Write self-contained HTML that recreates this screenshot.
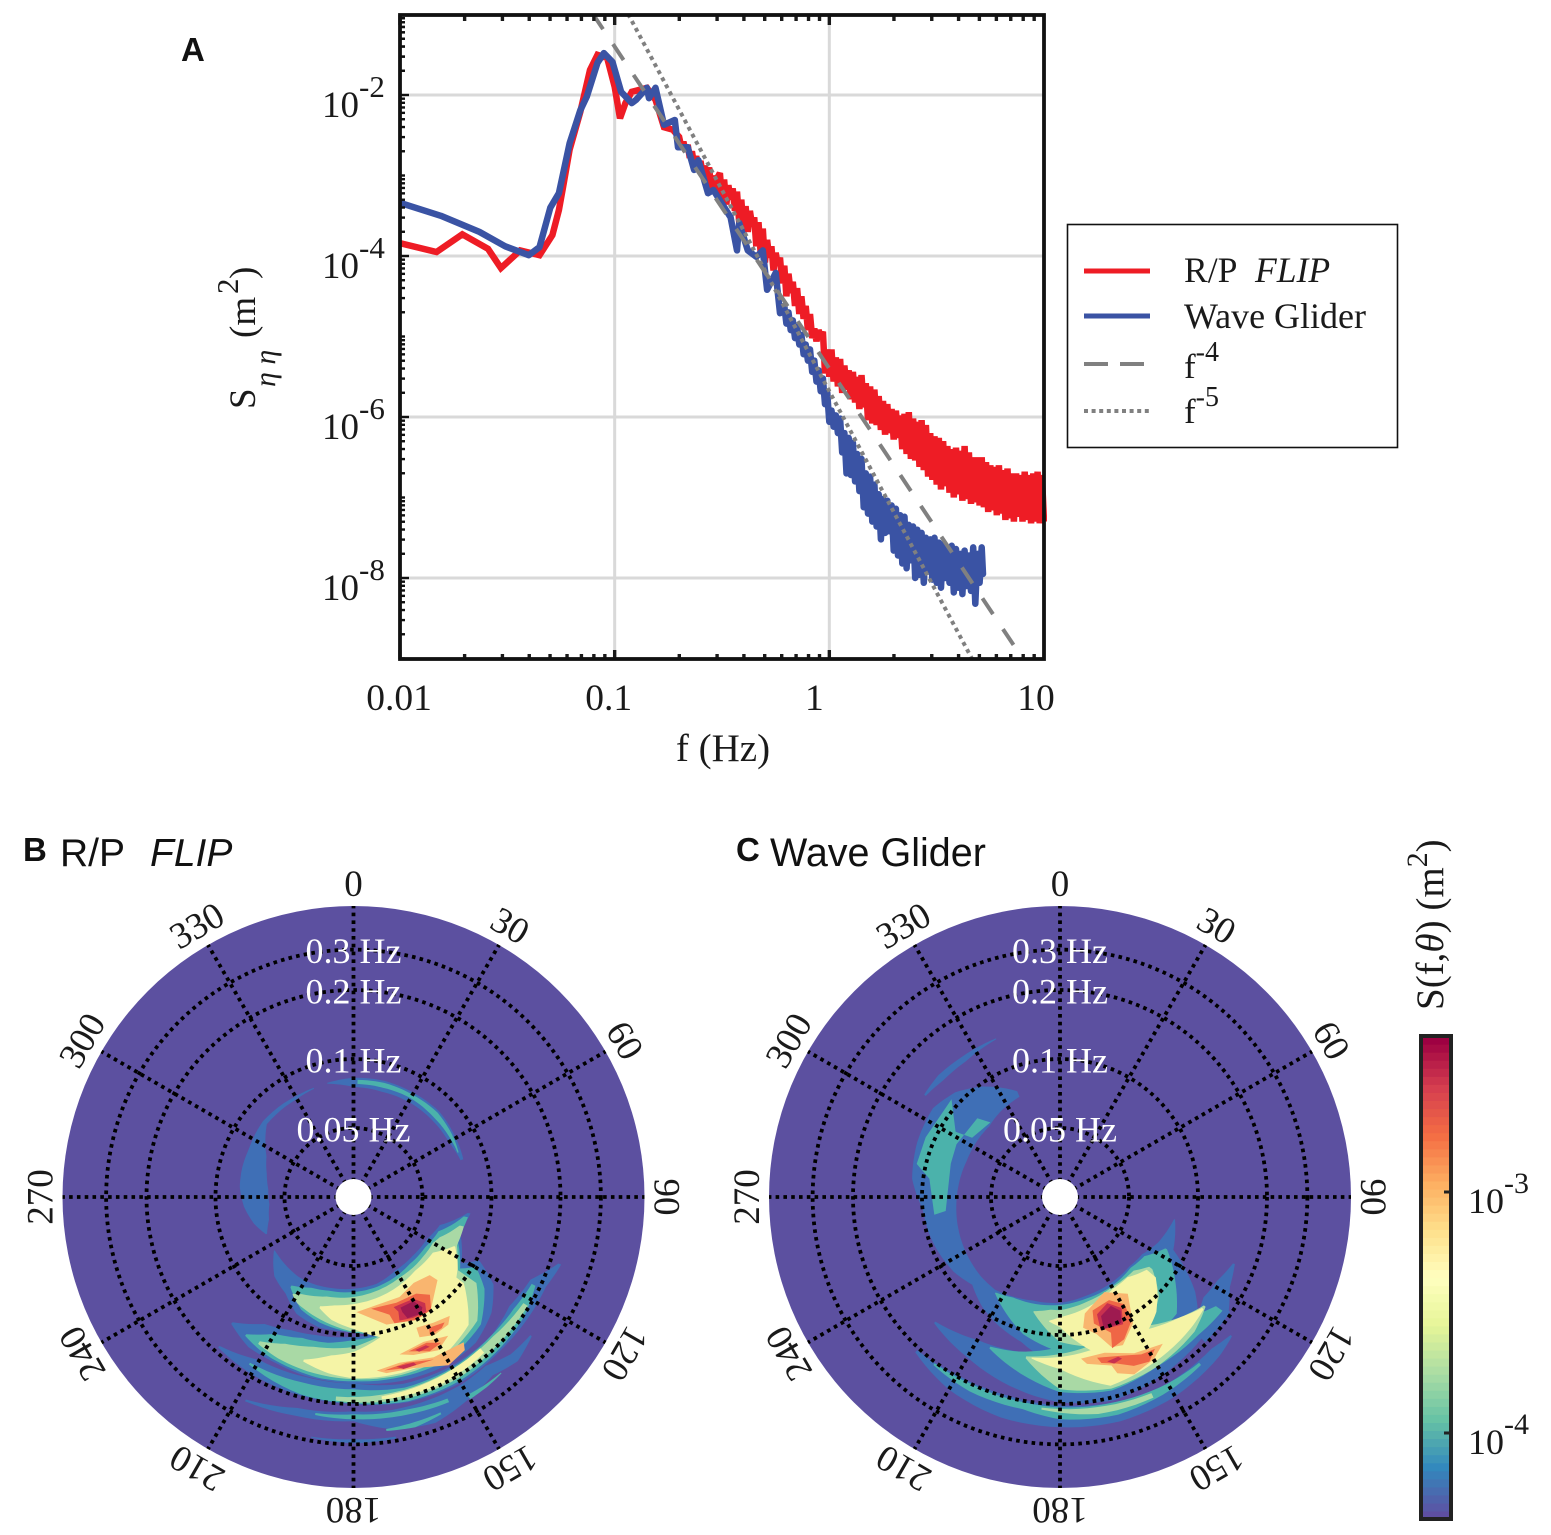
<!DOCTYPE html>
<html lang="en">
<head>
<meta charset="utf-8">
<title>Wave spectra comparison</title>
<style>
html,body{margin:0;padding:0;background:#fff}
svg{display:block}
text{font-family:"Liberation Serif",serif;fill:#1a1a1a}
.sans{font-family:"Liberation Sans",sans-serif;fill:#111}
</style>
</head>
<body>
<svg id="fig" xmlns="http://www.w3.org/2000/svg" width="1551" height="1535" viewBox="0 0 1551 1535">
  <defs><clipPath id="plotClip"><rect x="400" y="15" width="647" height="644"/></clipPath></defs>
  <g id="panelA"></g>
  <text class="sans" x="181" y="61" font-size="33" font-weight="bold">A</text>
  <text x="723" y="761" font-size="39" text-anchor="middle">f (Hz)</text>
  <g transform="translate(255,409) rotate(-90)">
    <text font-size="37"><tspan x="0" y="0">S</tspan><tspan x="22" y="20" font-size="30" font-style="italic">η η</tspan><tspan x="71" y="0">(m</tspan><tspan x="115" y="-17" font-size="31">2</tspan><tspan x="130" y="0">)</tspan></text>
  </g>

  <g>
    <rect x="1067.5" y="224.5" width="330" height="223" fill="#fff" stroke="#111" stroke-width="1.6"/>
    <line x1="1084" x2="1150" y1="271" y2="271" stroke="#ee1c25" stroke-width="5"/>
    <line x1="1084" x2="1150" y1="316" y2="316" stroke="#3a53a4" stroke-width="5"/>
    <line x1="1084" x2="1150" y1="364" y2="364" stroke="#808080" stroke-width="4" stroke-dasharray="24 12"/>
    <line x1="1084" x2="1150" y1="411" y2="411" stroke="#808080" stroke-width="4" stroke-dasharray="4 3.6"/>
    <text x="1184" y="282" font-size="35.6">R/P<tspan x="1255" font-style="italic">FLIP</tspan></text>
    <text x="1184" y="328" font-size="36">Wave Glider</text>
    <text x="1184" y="378" font-size="35">f<tspan font-size="28" dy="-17">-4</tspan></text>
    <text x="1184" y="423" font-size="35">f<tspan font-size="28" dy="-17">-5</tspan></text>
  </g>

  <g id="panelB"></g>
  <g id="panelC"></g>
  <text class="sans" x="23" y="861" font-size="33" font-weight="bold">B</text>
  <text class="sans" x="60" y="866" font-size="39">R/P<tspan x="150" font-style="italic">FLIP</tspan></text>
  <text class="sans" x="736" y="861" font-size="33" font-weight="bold">C</text>
  <text class="sans" x="770" y="866" font-size="39.5">Wave Glider</text>

  <g id="cbar"></g>
  <text transform="translate(1443,1010) rotate(-90)" font-size="39">S(f,<tspan font-style="italic">θ</tspan>) (m<tspan font-size="30" dy="-16">2</tspan><tspan dy="16">)</tspan></text>
</svg>

<script>
// ---------- Panel A data: log10(f in Hz) and log10(S in m^2) ----------
const xTickHz = [0.01, 0.1, 1, 10];
const xTickLabels = ['0.01', '0.1', '1', '10'];
const yTickExp = [-2, -4, -6, -8];
const yTickLabels = ['-2', '-4', '-6', '-8'];

const redLogF = [-2,-1.83,-1.71,-1.59,-1.53,-1.44,-1.35,-1.29,-1.26,-1.24,-1.21,-1.16,-1.115,-1.08,-1.035,-1,-0.975,-0.95,-0.92,-0.85,-0.81,-0.77,-0.73,
 -0.70,-0.69,-0.68,-0.67,-0.66,-0.65,-0.64,-0.63,-0.62,-0.61,
 -0.60,-0.59,-0.58,-0.57,-0.56,-0.55,-0.54,-0.53,-0.52,-0.51,
 -0.50,-0.49,-0.48,-0.47,-0.46,-0.45,-0.44,-0.43,-0.42,-0.41,
 -0.40,-0.39,-0.38,-0.37,-0.36,-0.35,-0.34,-0.33,-0.32,-0.31,
 -0.30,-0.29,-0.28,-0.27,-0.26,-0.25,-0.24,-0.23,-0.22,-0.21,
 -0.20,-0.19,-0.18,-0.17,-0.16,-0.15,-0.14,-0.13,-0.12,-0.11,
 -0.10,-0.09,-0.08,-0.07,-0.06,-0.05,-0.04,-0.03,-0.02,-0.01,
 0,0.01,0.02,0.03,0.04,0.05,0.06,0.07,0.08,0.09,
 0.10,0.11,0.12,0.13,0.14,0.15,0.16,0.17,0.18,0.19,
 0.20,0.21,0.22,0.23,0.24,0.25,0.26,0.27,0.28,0.29,
 0.30,0.31,0.32,0.33,0.34,0.35,0.36,0.37,0.38,0.39,
 0.40,0.41,0.42,0.43,0.44,0.45,0.46,0.47,0.48,0.49,
 0.50,0.51,0.52,0.53,0.54,0.55,0.56,0.57,0.58,0.59,
 0.60,0.61,0.62,0.63,0.64,0.65,0.66,0.67,0.68,0.69,
 0.70,0.71,0.72,0.73,0.74,0.75,0.76,0.77,0.78,0.79,
 0.80,0.81,0.82,0.83,0.84,0.85,0.86,0.87,0.88,0.89,
 0.90,0.91,0.92,0.93,0.94,0.95,0.96,0.97,0.98,0.99,1.0];
const redLogS = [-3.84,-3.95,-3.73,-3.91,-4.15,-3.93,-3.99,-3.74,-3.43,-3.14,-2.68,-2.21,-1.69,-1.50,-1.54,-1.90,-2.29,-2.10,-1.96,-1.91,-2.06,-2.40,-2.43,
 -2.52,-2.64,-2.58,-2.70,-2.62,-2.78,-2.70,-2.86,-2.76,-2.90,
 -2.82,-2.98,-2.88,-3.02,-2.90,-3.18,-3.00,-3.22,-3.02,-2.97,
 -3.30,-3.05,-3.36,-3.12,-3.30,-3.16,-3.44,-3.20,-3.58,-3.30,
 -3.66,-3.38,-3.70,-3.44,-3.62,-3.52,-3.88,-3.58,-3.95,-3.66,
 -4.08,-3.80,-4.02,-3.88,-4.18,-3.96,-4.12,-4.02,-4.34,-4.12,
 -4.50,-4.22,-4.46,-4.32,-4.62,-4.40,-4.72,-4.50,-4.78,-4.62,
 -4.92,-4.72,-5.02,-4.90,-5.06,-4.92,-5.00,-4.94,-5.46,-5.16,
 -5.50,-5.16,-5.56,-5.26,-5.62,-5.28,-5.70,-5.36,-5.66,-5.42,
 -5.78,-5.44,-5.82,-5.50,-5.90,-5.48,-5.88,-5.58,-6.04,-5.62,
 -6.08,-5.66,-6.10,-5.74,-6.16,-5.80,-6.22,-5.84,-6.20,-5.90,
 -6.28,-5.92,-6.26,-5.98,-6.40,-5.96,-6.46,-5.94,-6.52,-6.02,
 -6.54,-6.06,-6.62,-6.04,-6.66,-6.10,-6.74,-6.20,-6.78,-6.24,
 -6.84,-6.26,-6.90,-6.30,-6.86,-6.36,-6.94,-6.40,-7.00,-6.38,
 -6.96,-6.42,-7.04,-6.36,-7.02,-6.44,-7.08,-6.50,-7.06,-6.50,
 -7.10,-6.50,-7.12,-6.56,-7.18,-6.60,-7.16,-6.62,-7.22,-6.60,
 -7.20,-6.66,-7.28,-6.64,-7.26,-6.70,-7.30,-6.70,-7.24,-6.72,
 -7.30,-6.68,-7.28,-6.72,-7.32,-6.70,-7.30,-6.68,-7.32,-6.72,-7.30];

const blueLogF = [-2,-1.81,-1.63,-1.51,-1.40,-1.35,-1.30,-1.26,-1.21,-1.16,-1.13,-1.08,-1.05,-1.01,-0.97,-0.92,-0.90,-0.85,-0.84,-0.81,-0.77,-0.72,-0.705,-0.66,-0.63,-0.61,-0.565,-0.54,-0.46,-0.43,-0.42,-0.38,-0.34,-0.31,-0.29,-0.25,-0.23,
 -0.21,-0.20,-0.19,-0.18,-0.17,-0.16,-0.15,-0.14,-0.13,-0.12,-0.11,
 -0.10,-0.09,-0.08,-0.07,-0.06,-0.05,-0.04,-0.03,-0.02,-0.01,
 0,0.01,0.02,0.03,0.04,0.05,0.06,0.07,0.08,0.09,
 0.10,0.11,0.12,0.13,0.14,0.15,0.16,0.17,0.18,0.19,
 0.20,0.21,0.22,0.23,0.24,0.25,0.26,0.27,0.28,0.29,
 0.30,0.31,0.32,0.33,0.34,0.35,0.36,0.37,0.38,0.39,
 0.40,0.41,0.42,0.43,0.44,0.45,0.46,0.47,0.48,0.49,
 0.50,0.51,0.52,0.53,0.54,0.55,0.56,0.57,0.58,0.59,
 0.60,0.61,0.62,0.63,0.64,0.65,0.66,0.67,0.68,0.69,
 0.70,0.71,0.716];
const blueLogS = [-3.34,-3.50,-3.70,-3.88,-3.99,-3.89,-3.40,-3.22,-2.60,-2.19,-2.02,-1.60,-1.48,-1.59,-1.96,-2.10,-2.06,-1.91,-2.04,-1.91,-2.37,-2.31,-2.65,-2.65,-2.93,-2.81,-3.22,-3.18,-3.52,-3.93,-3.59,-3.93,-4.01,-3.93,-4.42,-4.21,-4.71,
 -4.62,-4.84,-4.70,-4.92,-4.80,-5.02,-4.88,-5.10,-4.98,-5.22,-5.10,
 -5.30,-5.16,-5.44,-5.30,-5.56,-5.42,-5.68,-5.52,-5.84,-5.70,
 -6.06,-5.92,-6.12,-5.98,-6.20,-6.02,-6.44,-6.20,-6.70,-6.26,
 -6.72,-6.32,-6.80,-6.46,-6.92,-6.52,-7.12,-6.70,-7.20,-6.74,
 -7.30,-6.84,-7.36,-6.96,-7.52,-7.02,-7.44,-7.04,-7.42,-7.10,
 -7.66,-7.14,-7.72,-7.22,-7.82,-7.24,-7.88,-7.34,-7.78,-7.36,
 -8.00,-7.40,-7.96,-7.44,-8.06,-7.50,-7.92,-7.52,-8.02,-7.50,
 -8.06,-7.56,-8.12,-7.58,-8.00,-7.66,-8.06,-7.60,-8.18,-7.64,
 -8.12,-7.70,-8.20,-7.66,-8.10,-7.72,-8.16,-7.62,-8.32,-7.70,
 -8.06,-7.62,-7.95];

const f4LogF = [-1.15, 0.95];
const f4LogS = [-0.80, -9.20];
const f5LogF = [-0.99, 0.70];
const f5LogS = [-0.73, -9.18];

// ---------- Polar contour data: rows are [bearing deg, inner Hz, outer Hz] ----------
const flipUpperLeftBlue = [[247,.0642,.065],[255,.0602,.0704],[265,.0584,.0755],[275,.059,.0787],[285,.0616,.0795],[295,.0656,.0795],[310,.0779,.0819],[330,.0779,.0803],[340,.0795,.0803]];
const flipUpperRightBlue = [[347,.0803,.0811],[360,.0755,.0827],[375,.0747,.0836],[390,.0755,.0836],[405,.0755,.0844],[420,.0755,.0819],[431,.0779,.0803]];
const flipUpperRightTeal = [[362,.0779,.0811],[375,.0779,.0819],[390,.0787,.0819],[405,.0779,.0827],[420,.0779,.0803],[427,.0779,.0787]];
const flipMainBlue = [[98,.0795,.0819],[108,.0622,.077],[120,.0584,.0878],[135,.0578,.0969],[150,.0584,.1073],[165,.0616,.1073],[180,.0628,.0969],[195,.0642,.0969],[206,.0656,.0923],[215,.0662,.0819],[225,.0656,.077],[236,.065,.0656]];
const flipMainTeal = [[100,.077,.0803],[112,.0628,.077],[125,.0602,.0923],[140,.0602,.102],[165,.0635,.102],[180,.065,.0979],[195,.0662,.0923],[205,.0683,.087],[215,.074,.0755]];
const flipMainGreen = [[105,.0755,.0787],[115,.065,.0787],[120,.0628,.0836],[130,.0628,.0969],[150,.0635,.102],[180,.0683,.0969],[195,.0704,.0895],[208,.0755,.0836],[212,.0787,.0795]];
const flipMainYellow = [[116,.077,.0779],[125,.0662,.0895],[140,.0656,.1073],[165,.0704,.1095],[180,.0733,.094],[190,.0755,.0878],[197,.0787,.0803]];
const flipMidBlue = [[224,.1437,.1467],[215,.1186,.1576],[205,.1095,.1576],[195,.1051,.1608],[180,.102,.1624],[165,.1,.1691],[150,.0969,.1725],[140,.0969,.1691],[130,.094,.1528],[122,.0878,.1312],[117,.102,.1041]];
const flipMidTeal = [[218,.1437,.1467],[210,.1222,.1528],[200,.1128,.156],[190,.1106,.1592],[180,.1051,.1592],[165,.102,.1624],[150,.1,.1657],[135,.094,.1528],[125,.0878,.1247],[120,.102,.1041]];
const flipMidGreen = [[213,.1408,.1452],[205,.1272,.1497],[195,.1186,.1528],[180,.1128,.156],[165,.1,.1592],[150,.0969,.1592],[135,.0923,.1452],[125,.0904,.1128]];
const flipMidYellow = [[197,.138,.1408],[188,.1247,.1497],[180,.1186,.1544],[165,.1,.156],[150,.0969,.156],[138,.0923,.1408],[128,.0895,.102]];
const flipArcBlue = [[222,.187,.191],[210,.1657,.1948],[195,.1624,.1968],[180,.1624,.2],[165,.1743,.2111],[150,.1779,.2154],[135,.1779,.2111],[125,.1691,.2111],[115,.1779,.2111],[108,.2175,.2242]];
const flipArcTeal = [[212,.1779,.1815],[195,.1725,.1948],[180,.1725,.1988],[165,.1815,.209],[150,.1815,.2111],[135,.1779,.2069],[125,.1779,.2028],[116,.1833,.191]];
const flipArcGreen = [[185,.187,.1948],[165,.1852,.2028],[150,.1833,.2049],[135,.1815,.1988],[122,.187,.1968]];
const flipArcYellow = [[172,.189,.1948],[155,.1852,.2],[140,.1815,.1929]];
const flipOuterBlue = [[208,.2502,.2553],[195,.2242,.2428],[180,.2154,.238],[170,.2197,.2684],[160,.2197,.2795],[150,.2197,.2578],[142,.2154,.2428],[135,.2333,.2578],[128,.238,.2428]];
const flipOuterTeal = [[190,.2264,.231],[180,.2219,.2333],[165,.2264,.238],[155,.2333,.2428]];
const flipOuterTealB = [[172,.263,.2684],[165,.2604,.274],[158,.2578,.263]];
const flipOuterTealC = [[150,.2477,.2604],[145,.2502,.2578],[140,.2502,.2527]];
const flipRimBlue = [[190,.2881,.291],[180,.2852,.297],[170,.2881,.2939]];

// polygons: [bearing deg, Hz]
const flipOrangeA = [[135.7,.0748],[134.7,.0819],[144.7,.0969],[152.9,.1],[165.5,.094],[178.5,.0795],[155.3,.0755],[145,.0717]];
const flipRedA = [[171,.0779],[158,.0787],[147,.0795],[142,.087],[145.4,.0989],[153,.1],[162,.0949],[163,.0861]];
const flipCrimsonA = [[160,.0811],[149.5,.0819],[146,.0904],[147.6,.0979],[153.6,.0969],[159.6,.094],[158.6,.0861]];
const flipDarkA = [[157,.0836],[150,.0836],[148,.0923],[150,.0969],[156,.0949],[157,.0878]];
const flipOrangeB = [[154.3,.1073],[147.6,.1117],[141,.1162],[143.4,.1234],[149.6,.1247],[154.8,.1186]];
const flipRedB = [[150,.1139],[144,.1186],[146,.1222],[151,.1222]];
const flipOrangeC = [[163.7,.1298],[154.2,.1259],[145.7,.1352],[151,.1452],[159.2,.1366]];
const flipRedC = [[160.3,.1298],[153.4,.1285],[149,.138],[153.7,.1408]];
const flipCrimsonC = [[158,.1312],[154,.1312],[153,.1352],[157,.1352]];
const flipOrangeD = [[172.4,.1452],[164.5,.1408],[153.4,.1512],[142.8,.156],[144,.1674],[150.5,.1743],[160.7,.1544],[169.4,.1512]];
const flipRedD = [[170,.1467],[162.3,.1437],[153.7,.1544],[162.8,.1512]];
const flipCrimsonD = [[165.8,.1452],[160,.1467],[159.4,.1512],[163.8,.1512]];

const gliderRingBlue = [[338,.074,.0787],[325,.0711,.0969],[315,.0683,.1106],[305,.0683,.1186],[291,.0683,.1162],[277,.0697,.1117],[265,.0711,.1],[250,.0733,.0969],[235,.0755,.0923],[225,.077,.087],[215,.0779,.0969],[205,.0755,.1051],[195,.0733,.1128],[180,.0725,.138],[165,.0697,.1691],[150,.0683,.187],[135,.067,.1779],[125,.0683,.1312],[115,.074,.0878],[101,.0803,.0811]];
const gliderThinArc = [[307,.1352,.138],[315,.1312,.1408],[325,.1312,.1394],[338,.138,.1394]];
const gliderMainTeal = [[214,.0795,.0803],[205,.0762,.0904],[195,.0755,.1041],[180,.074,.1186],[165,.0717,.138],[150,.0704,.138],[135,.0683,.1312],[125,.0704,.102],[116,.0811,.0827]];
const gliderMainGreen = [[193,.0811,.0819],[185,.0779,.0969],[180,.0779,.1073],[165,.074,.1186],[150,.0711,.1312],[135,.0711,.102],[128,.0779,.0811]];
const gliderMainYellow = [[185,.087,.0878],[180,.0836,.0923],[165,.0779,.1312],[150,.0725,.1312],[140,.0717,.1128],[130,.0779,.0878]];
const gliderLowerBlue = [[225,.1467,.1497],[210,.1312,.1608],[195,.1247,.1779],[180,.1312,.1968],[165,.1408,.2069],[150,.1452,.1968],[135,.1528,.187],[124,.1779,.1968]];
const gliderLowerTeal = [[205,.1312,.1339],[195,.1247,.1497],[180,.1128,.1775],[165,.1186,.187],[150,.1247,.1779],[135,.1408,.1779],[125,.1691,.1833]];
const gliderLowerGreen = [[192,.1285,.1312],[180,.121,.1725],[165,.1128,.1833],[150,.1128,.1779],[135,.138,.1691],[127,.1528,.156]];
const gliderLowerYellow = [[190,.1285,.1298],[180,.1247,.1408],[165,.1186,.1779],[150,.1186,.1691],[135,.138,.1608],[128,.1528,.156]];
const gliderOuterBlue = [[223,.2049,.2111],[210,.1968,.2333],[195,.1968,.2477],[180,.2028,.2527],[165,.2111,.2578],[150,.2175,.2527],[135,.2154,.2404],[129,.2264,.231]];
const gliderOuterTeal = [[217,.2028,.2069],[205,.2,.2154],[190,.2028,.2175],[180,.2069,.2333],[165,.2111,.2404],[150,.2175,.2333],[140,.2197,.2264]];
const gliderOuterGreen = [[185,.209,.2132],[170,.2132,.2287],[155,.2197,.231]];
const gliderWingBlue = [[111,.1608,.1641],[118,.1497,.1725],[125,.1452,.1968],[135,.1608,.1968]];

const gliderTealUpper = [[263,.0795],[287,.0787],[297,.0803],[313.6,.0787],[317,.0697],[304,.0725],[302,.0861],[312,.1084],[294,.1095],[283,.1095],[278,.094],[262,.0895]];
const gliderOrangeA = [[168,.0827],[155,.0717],[145,.0819],[150,.1084],[157,.1259],[161,.1234],[165,.1041],[170,.0949]];
const gliderRedA = [[164,.0819],[154.6,.0787],[149,.0878],[150,.1051],[155.7,.1198],[161,.1247],[159.4,.1073],[165,.0932]];
const gliderCrimsonA = [[162.5,.0861],[156,.0803],[151,.0895],[153.6,.1041],[163,.101]];
const gliderDarkA = [[161,.0886],[155,.0836],[152,.0913],[154,.102],[161.6,.101]];
const gliderOrangeB = [[172.6,.1285],[164,.1272],[154.6,.1422],[145,.1512],[150,.1641],[157.3,.1725],[162,.1608],[163,.1467],[170.8,.1366]];
const gliderRedB = [[167,.1312],[159,.138],[152.7,.1482],[148,.1512],[151.5,.1641],[156.4,.1592],[161,.1467],[166,.1394]];
const gliderCrimsonB = [[164,.1394],[160,.138],[159,.1422],[162,.1452]];

const angleTicks = [0,30,60,90,120,150,180,210,240,270,300,330];
const freqCircles = [0.05,0.1,0.2,0.3];
const freqLabels = ['0.05 Hz','0.1 Hz','0.2 Hz','0.3 Hz'];
const cbarTickExp = [-3,-4];
const cbarTickLabels = ['-3','-4'];

// ---------- Helpers ----------
const NS = 'http://www.w3.org/2000/svg';
function make(tag, attrs, parent, name) {
  const el = document.createElementNS(NS, tag);
  for (const k in attrs) el.setAttribute(k, attrs[k]);
  
  
  parent.appendChild(el);
  return el;
}

// ---------- Panel A ----------
const gA = document.getElementById('panelA');
const L = 400, R = 1044, T = 15, B = 659;
const xScale = v => L + (v + 2) * (R - L) / 3;
const yScale = v => 95 + (-2 - v) * 80.5;

yTickExp.forEach(e => make('line', {x1:L,x2:R,y1:yScale(e),y2:yScale(e),stroke:'#d9d9d9','stroke-width':3}, gA, 'y-gridline'));
xTickHz.slice(1,3).forEach(t => make('line', {x1:xScale(Math.log10(t)),x2:xScale(Math.log10(t)),y1:T,y2:B,stroke:'#d9d9d9','stroke-width':3}, gA, 'x-gridline'));

const clipG = make('g', {'clip-path':'url(#plotClip)'}, gA, 'series-group');
function seriesPath(fs, ss) { return fs.map((f,i) => (i?'L':'M') + xScale(f).toFixed(1) + ' ' + yScale(ss[i]).toFixed(1)).join(''); }
make('path', {d:seriesPath(redLogF,redLogS),fill:'none',stroke:'#ee1c25','stroke-width':6.5,'stroke-linejoin':'miter','stroke-miterlimit':2}, clipG, 'series-flip');
make('path', {d:seriesPath(blueLogF,blueLogS),fill:'none',stroke:'#3a53a4','stroke-width':6.5,'stroke-linejoin':'round','stroke-linecap':'round'}, clipG, 'series-wave-glider');
make('path', {d:seriesPath(f4LogF,f4LogS),fill:'none',stroke:'#808080','stroke-width':4,'stroke-dasharray':'19 18','stroke-dashoffset':19}, clipG, 'reference-f-minus-4');
make('path', {d:seriesPath(f5LogF,f5LogS),fill:'none',stroke:'#808080','stroke-width':4,'stroke-dasharray':'4 4'}, clipG, 'reference-f-minus-5');

// ticks: bottom, top and left sides only
for (let d = -2; d <= 0; d++) for (let m = 1; m <= 9; m++) {
  const v = xScale(d + Math.log10(m)), len = m === 1 ? 9 : 5;
  make('line', {x1:v,x2:v,y1:B,y2:B-len,stroke:'#1a1a1a','stroke-width':3.4}, gA, 'x-tick-bottom');
  make('line', {x1:v,x2:v,y1:T,y2:T+len+1,stroke:'#1a1a1a','stroke-width':3.4}, gA, 'x-tick-top');
}
for (let d = -9; d <= -2; d++) for (let m = 1; m <= 9; m++) {
  const v = yScale(d + Math.log10(m)), len = (m === 1 && d % 2 === 0) ? 9 : 5;
  make('line', {x1:L,x2:L+len,y1:v,y2:v,stroke:'#111','stroke-width':2.4}, gA, 'y-tick-left');
}
for (let m = 2; m <= 9; m++) {
  const v = yScale(-2 + Math.log10(m));
  make('line', {x1:L,x2:L+5,y1:v,y2:v,stroke:'#111','stroke-width':2.4}, gA, 'y-tick-left');
}
make('rect', {x:L,y:T,width:R-L,height:B-T,fill:'none',stroke:'#111','stroke-width':3.8}, gA, 'plot-frame');

const xLabelNudge = [-1,-6,-15,-8];
xTickHz.forEach((t,i) => {
  const tx = make('text', {x:xScale(Math.log10(t))+xLabelNudge[i],y:710,'font-size':37.5,'text-anchor':'middle'}, gA, 'x-tick-label');
  tx.textContent = xTickLabels[i];
});
yTickExp.forEach((e,i) => {
  const tx = make('text', {x:322,y:yScale(e)+22,'font-size':37}, gA, 'y-tick-label');
  tx.appendChild(document.createTextNode('10'));
  const sup = make('tspan', {'font-size':31,dy:-20}, tx, 'y-tick-exponent');
  sup.textContent = yTickLabels[i];
});

// ---------- Polar panels ----------
const levelColors = ['#3f6fb6','#4bb2ab','#a9d9a5','#f5f4a6','#f9b56f','#ef6646','#c8304f','#9e1a50'];
const rScale = f => 69 * Math.log2(f / 0.025);
const RMAX = 291;

function polarPt(c, th, f) {
  const a = th * Math.PI / 180, r = rScale(f);
  return [c[0] + r * Math.sin(a), c[1] - r * Math.cos(a)];
}
function arcEdge(c, a, b, out) {
  // follow the arc between two radial samples
  for (let s = 0; s < 6; s++) {
    const t = s / 6;
    const th = a[0] + (b[0] - a[0]) * t;
    const f = Math.exp(Math.log(a[1]) + (Math.log(b[1]) - Math.log(a[1])) * t);
    out.push(polarPt(c, th, f));
  }
}
function crescentPts(c, rows) {
  const out = [];
  for (let i = 0; i < rows.length - 1; i++) arcEdge(c, [rows[i][0], rows[i][2]], [rows[i+1][0], rows[i+1][2]], out);
  out.push(polarPt(c, rows[rows.length-1][0], rows[rows.length-1][2]));
  for (let i = rows.length - 1; i > 0; i--) arcEdge(c, [rows[i][0], rows[i][1]], [rows[i-1][0], rows[i-1][1]], out);
  out.push(polarPt(c, rows[0][0], rows[0][1]));
  return out;
}
function blobPts(c, pts) { return pts.map(p => polarPt(c, p[0], p[1])); }

function drawPolar(g, c, layers) {
  make('circle', {cx:c[0],cy:c[1],r:RMAX,fill:'#5c50a0'}, g, 'polar-background');
  layers.slice().sort((a,b) => a.level - b.level).forEach(l => {
    const pts = l.rows[0].length === 3 ? crescentPts(c, l.rows) : blobPts(c, l.rows);
    make('polygon', {points:pts.map(p => p[0].toFixed(1)+','+p[1].toFixed(1)).join(' '),fill:levelColors[l.level]}, g, 'contour-band');
  });
  freqCircles.forEach(f => make('circle', {cx:c[0],cy:c[1],r:rScale(f),fill:'none',stroke:'#000','stroke-width':3.8,'stroke-dasharray':'3.6 4.2'}, g, 'frequency-circle'));
  angleTicks.forEach(a => {
    const rad = a * Math.PI / 180;
    make('line', {x1:c[0],y1:c[1],x2:c[0]+RMAX*Math.sin(rad),y2:c[1]-RMAX*Math.cos(rad),stroke:'#000','stroke-width':3.8,'stroke-dasharray':'3.6 4.2'}, g, 'bearing-spoke');
  });
  make('circle', {cx:c[0],cy:c[1],r:18,fill:'#fff'}, g, 'polar-center-hole');
  angleTicks.forEach(a => {
    const rad = a * Math.PI / 180, px = c[0] + 313*Math.sin(rad), py = c[1] - 313*Math.cos(rad);
    const tx = make('text', {transform:'translate('+px.toFixed(1)+','+py.toFixed(1)+') rotate('+a+')',y:12,'font-size':37,'text-anchor':'middle'}, g, 'bearing-label');
    tx.textContent = String(a);
  });
  freqCircles.forEach((f,i) => {
    const tx = make('text', {x:c[0],y:c[1]-rScale(f)+13.5,'font-size':36,'text-anchor':'middle',style:'fill:#fff'}, g, 'frequency-label');
    tx.textContent = freqLabels[i];
  });
}

drawPolar(document.getElementById('panelB'), [353.5,1197], [
  {rows:flipUpperLeftBlue,level:0},{rows:flipUpperRightBlue,level:0},{rows:flipUpperRightTeal,level:1},
  {rows:flipMainBlue,level:0},{rows:flipMainTeal,level:1},{rows:flipMainGreen,level:2},{rows:flipMainYellow,level:3},
  {rows:flipMidBlue,level:0},{rows:flipMidTeal,level:1},{rows:flipMidGreen,level:2},{rows:flipMidYellow,level:3},
  {rows:flipArcBlue,level:0},{rows:flipArcTeal,level:1},{rows:flipArcGreen,level:2},{rows:flipArcYellow,level:3},
  {rows:flipOuterBlue,level:0},{rows:flipOuterTeal,level:1},{rows:flipOuterTealB,level:1},{rows:flipOuterTealC,level:1},{rows:flipRimBlue,level:0},
  {rows:flipOrangeA,level:4},{rows:flipRedA,level:5},{rows:flipCrimsonA,level:6},{rows:flipDarkA,level:7},
  {rows:flipOrangeB,level:4},{rows:flipRedB,level:5},{rows:flipOrangeC,level:4},{rows:flipRedC,level:5},{rows:flipCrimsonC,level:6},
  {rows:flipOrangeD,level:4},{rows:flipRedD,level:5},{rows:flipCrimsonD,level:6}
]);
drawPolar(document.getElementById('panelC'), [1060,1197], [
  {rows:gliderRingBlue,level:0},{rows:gliderThinArc,level:0},{rows:gliderTealUpper,level:1},
  {rows:gliderMainTeal,level:1},{rows:gliderMainGreen,level:2},{rows:gliderMainYellow,level:3},
  {rows:gliderLowerBlue,level:0},{rows:gliderLowerTeal,level:1},{rows:gliderLowerGreen,level:2},{rows:gliderLowerYellow,level:3},
  {rows:gliderOuterBlue,level:0},{rows:gliderOuterTeal,level:1},{rows:gliderOuterGreen,level:2},{rows:gliderWingBlue,level:0},
  {rows:gliderOrangeA,level:4},{rows:gliderRedA,level:5},{rows:gliderCrimsonA,level:6},{rows:gliderDarkA,level:7},
  {rows:gliderOrangeB,level:4},{rows:gliderRedB,level:5},{rows:gliderCrimsonB,level:6}
]);

// ---------- Colorbar ----------
const cbarStops = [[94,79,162],[50,136,189],[102,194,165],[171,221,164],[230,245,152],[255,255,191],[254,224,139],[253,174,97],[244,109,67],[213,62,79],[158,1,66]];
const cbar = document.getElementById('cbar');
const cbTop = 1036, cbBot = 1519, cbL = 1421, cbR = 1451, STEPS = 60;
const cbY = e => 1192 + (-3 - e) * 241;
for (let i = 0; i < STEPS; i++) {
  const t = i / (STEPS - 1) * (cbarStops.length - 1), k = Math.min(Math.floor(t), cbarStops.length - 2), u = t - k;
  const col = cbarStops[k].map((v,j) => Math.round(v + (cbarStops[k+1][j] - v) * u));
  const h = (cbBot - cbTop) / STEPS;
  make('rect', {x:cbL,y:(cbBot - (i+1)*h).toFixed(2),width:cbR-cbL,height:(h+0.6).toFixed(2),fill:'rgb('+col.join(',')+')'}, cbar, 'colorbar-step');
}
make('rect', {x:cbL,y:cbTop,width:cbR-cbL,height:cbBot-cbTop,fill:'none',stroke:'#222','stroke-width':4}, cbar, 'colorbar-frame');
cbarTickExp.forEach((e,i) => {
  make('line', {x1:cbR-7,x2:cbR,y1:cbY(e),y2:cbY(e),stroke:'#222','stroke-width':3}, cbar, 'colorbar-tick');
  const tx = make('text', {x:1468,y:cbY(e)+21,'font-size':36}, cbar, 'colorbar-tick-label');
  tx.appendChild(document.createTextNode('10'));
  const sup = make('tspan', {'font-size':30,dy:-20}, tx, 'colorbar-tick-exponent');
  sup.textContent = cbarTickLabels[i];
});
</script>
</body>
</html>
